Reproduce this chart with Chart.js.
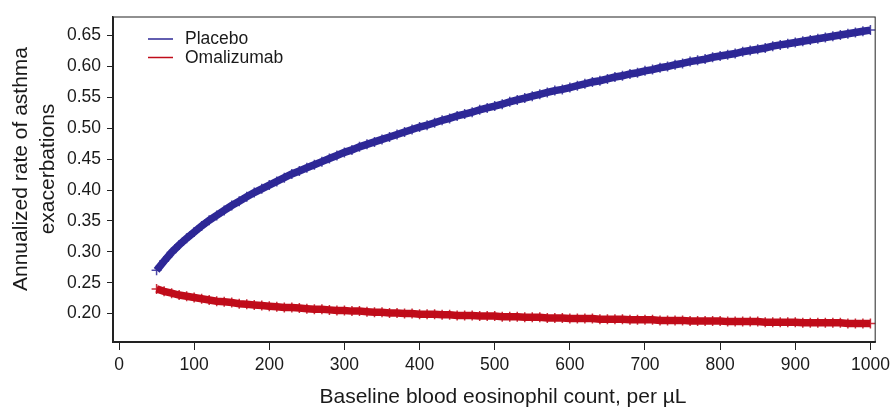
<!DOCTYPE html>
<html>
<head>
<meta charset="utf-8">
<script src="https://cdn.jsdelivr.net/npm/chart.js@4.4.1/dist/chart.umd.min.js"></script>
<style>
  html, body { margin: 0; padding: 0; background: #fff; }
</style>
</head>
<body>
<canvas id="myChart" width="895" height="407"></canvas>
<script>
// eosinophil count (per µL), every 10
const eosinophilCounts = [
  50, 60, 70, 80, 90, 100, 110, 120, 130, 140, 150, 160, 170, 180, 190, 200,
  210, 220, 230, 240, 250, 260, 270, 280, 290, 300, 310, 320, 330, 340, 350,
  360, 370, 380, 390, 400, 410, 420, 430, 440, 450, 460, 470, 480, 490, 500,
  510, 520, 530, 540, 550, 560, 570, 580, 590, 600, 610, 620, 630, 640, 650,
  660, 670, 680, 690, 700, 710, 720, 730, 740, 750, 760, 770, 780, 790, 800,
  810, 820, 830, 840, 850, 860, 870, 880, 890, 900, 910, 920, 930, 940, 950,
  960, 970, 980, 990, 1000
];
const placeboRates = [
  0.270, 0.285, 0.299, 0.311, 0.322, 0.332, 0.342, 0.351, 0.359, 0.367, 0.375,
  0.382, 0.389, 0.396, 0.402, 0.408, 0.414, 0.420, 0.426, 0.431, 0.436, 0.441,
  0.446, 0.451, 0.456, 0.461, 0.465, 0.470, 0.474, 0.478, 0.482, 0.486, 0.490,
  0.494, 0.498, 0.502, 0.505, 0.509, 0.513, 0.516, 0.520, 0.523, 0.526, 0.530,
  0.533, 0.536, 0.539, 0.543, 0.546, 0.549, 0.552, 0.555, 0.558, 0.561, 0.563,
  0.566, 0.569, 0.572, 0.575, 0.577, 0.580, 0.583, 0.585, 0.588, 0.590, 0.593,
  0.595, 0.598, 0.600, 0.603, 0.605, 0.608, 0.610, 0.612, 0.615, 0.617, 0.619,
  0.621, 0.624, 0.626, 0.628, 0.630, 0.633, 0.635, 0.637, 0.639, 0.641, 0.643,
  0.645, 0.647, 0.649, 0.651, 0.653, 0.655, 0.657, 0.659
];
const omalizumabRates = [
  0.240, 0.236, 0.233, 0.230, 0.228, 0.226, 0.224, 0.222, 0.220, 0.219, 0.218,
  0.216, 0.215, 0.214, 0.213, 0.212, 0.211, 0.210, 0.210, 0.209, 0.208, 0.207,
  0.207, 0.206, 0.205, 0.205, 0.204, 0.204, 0.203, 0.202, 0.202, 0.201, 0.201,
  0.200, 0.200, 0.199, 0.199, 0.199, 0.198, 0.198, 0.197, 0.197, 0.197, 0.196,
  0.196, 0.196, 0.195, 0.195, 0.195, 0.194, 0.194, 0.194, 0.193, 0.193, 0.193,
  0.192, 0.192, 0.192, 0.192, 0.191, 0.191, 0.191, 0.191, 0.190, 0.190, 0.190,
  0.190, 0.189, 0.189, 0.189, 0.189, 0.188, 0.188, 0.188, 0.188, 0.188, 0.187,
  0.187, 0.187, 0.187, 0.187, 0.186, 0.186, 0.186, 0.186, 0.186, 0.185, 0.185,
  0.185, 0.185, 0.185, 0.185, 0.184, 0.184, 0.184, 0.184
];
const seriesNames = ["Placebo", "Omalizumab"];
const xTicks = [0, 100, 200, 300, 400, 500, 600, 700, 800, 900, 1000];
const yTicks = [0.20, 0.25, 0.30, 0.35, 0.40, 0.45, 0.50, 0.55, 0.60, 0.65];
const xTitle = "Baseline blood eosinophil count, per µL";
const yTitle = ["Annualized rate of asthma", "exacerbations"];

const blue = "rgb(46, 40, 150)";
const red = "rgb(192, 12, 26)";
const ink = "#1a1a1a";
const fontFamily = "'Liberation Sans', Arial, Helvetica, sans-serif";

function points(values) {
  return eosinophilCounts.map((x, i) => ({ x: x, y: values[i] }));
}

// frame, legend and axis titles drawn by hand
const extras = {
  id: "extras",
  afterDraw(chart) {
    const c = chart.ctx;
    const a = chart.chartArea;
    c.save();
    c.strokeStyle = "#222";
    c.lineWidth = 1;
    c.strokeRect(a.left + 0.5, a.top + 0.5, a.right - a.left - 1, a.bottom - a.top);

    // legend
    c.font = "17.5px " + fontFamily;
    c.fillStyle = ink;
    c.textAlign = "left";
    c.textBaseline = "alphabetic";
    const legendRows = [
      { name: seriesNames[0], color: blue, y: 39 },
      { name: seriesNames[1], color: red, y: 57.5 },
    ];
    for (const row of legendRows) {
      c.strokeStyle = row.color;
      c.lineWidth = 1.5;
      c.beginPath();
      c.moveTo(148, row.y);
      c.lineTo(173, row.y);
      c.stroke();
      c.fillText(row.name, 185, row.y + 5);
    }

    // axis titles
    c.font = "21px " + fontFamily;
    c.textAlign = "center";
    c.fillText(xTitle, 503, 403);
    const lineX = [27, 54];
    yTitle.forEach((line, i) => {
      c.save();
      c.translate(lineX[i], 169);
      c.rotate(-Math.PI / 2);
      c.fillText(line, 0, 0);
      c.restore();
    });
    c.restore();
  },
};

const ctx = document.getElementById("myChart").getContext("2d");
const myChart = new Chart(ctx, {
  type: "line",
  data: {
    datasets: [
      {
        label: seriesNames[0],
        data: points(placeboRates),
        borderColor: blue,
        borderWidth: 7.5,
        pointStyle: "cross",
        pointRadius: 5,
        pointBorderWidth: 1.5,
        pointBorderColor: "rgba(46, 40, 150, 0.85)",
        pointBackgroundColor: blue,
        fill: false,
        tension: 0,
      },
      {
        label: seriesNames[1],
        data: points(omalizumabRates),
        borderColor: red,
        borderWidth: 7.5,
        pointStyle: "cross",
        pointRadius: 5,
        pointBorderWidth: 1.5,
        pointBorderColor: "rgba(192, 12, 26, 0.85)",
        pointBackgroundColor: red,
        fill: false,
        tension: 0,
      },
    ],
  },
  options: {
    responsive: false,
    animation: false,
    layout: { padding: { top: 13, right: 17, left: 0, bottom: 0 } },
    plugins: {
      legend: { display: false },
      tooltip: { enabled: false },
    },
    scales: {
      x: {
        type: "linear",
        position: "bottom",
        min: -8,
        max: 1007,
        afterBuildTicks: (s) => { s.ticks = xTicks.map((v) => ({ value: v })); },
        afterFit: (s) => { s.height = 65; },
        ticks: {
          autoSkip: false,
          maxRotation: 0,
          padding: 5,
          color: ink,
          font: { family: fontFamily, size: 17.5 },
          callback: (v) => String(v),
        },
        grid: { drawOnChartArea: false, drawTicks: true, tickLength: 8, color: "#222", lineWidth: 1 },
        border: { display: true, color: "#222", width: 1.5 },
      },
      y: {
        type: "linear",
        position: "left",
        min: 0.154,
        max: 0.681,
        afterBuildTicks: (s) => { s.ticks = yTicks.map((v) => ({ value: v })); },
        afterFit: (s) => { s.width = 113; },
        ticks: {
          padding: 6,
          color: ink,
          font: { family: fontFamily, size: 17.5 },
          callback: (v) => Number(v).toFixed(2),
        },
        grid: { drawOnChartArea: false, drawTicks: true, tickLength: 6, color: "#222", lineWidth: 1 },
        border: { display: true, color: "#222", width: 1.5 },
      },
    },
  },
  plugins: [extras],
});
</script>
</body>
</html>
